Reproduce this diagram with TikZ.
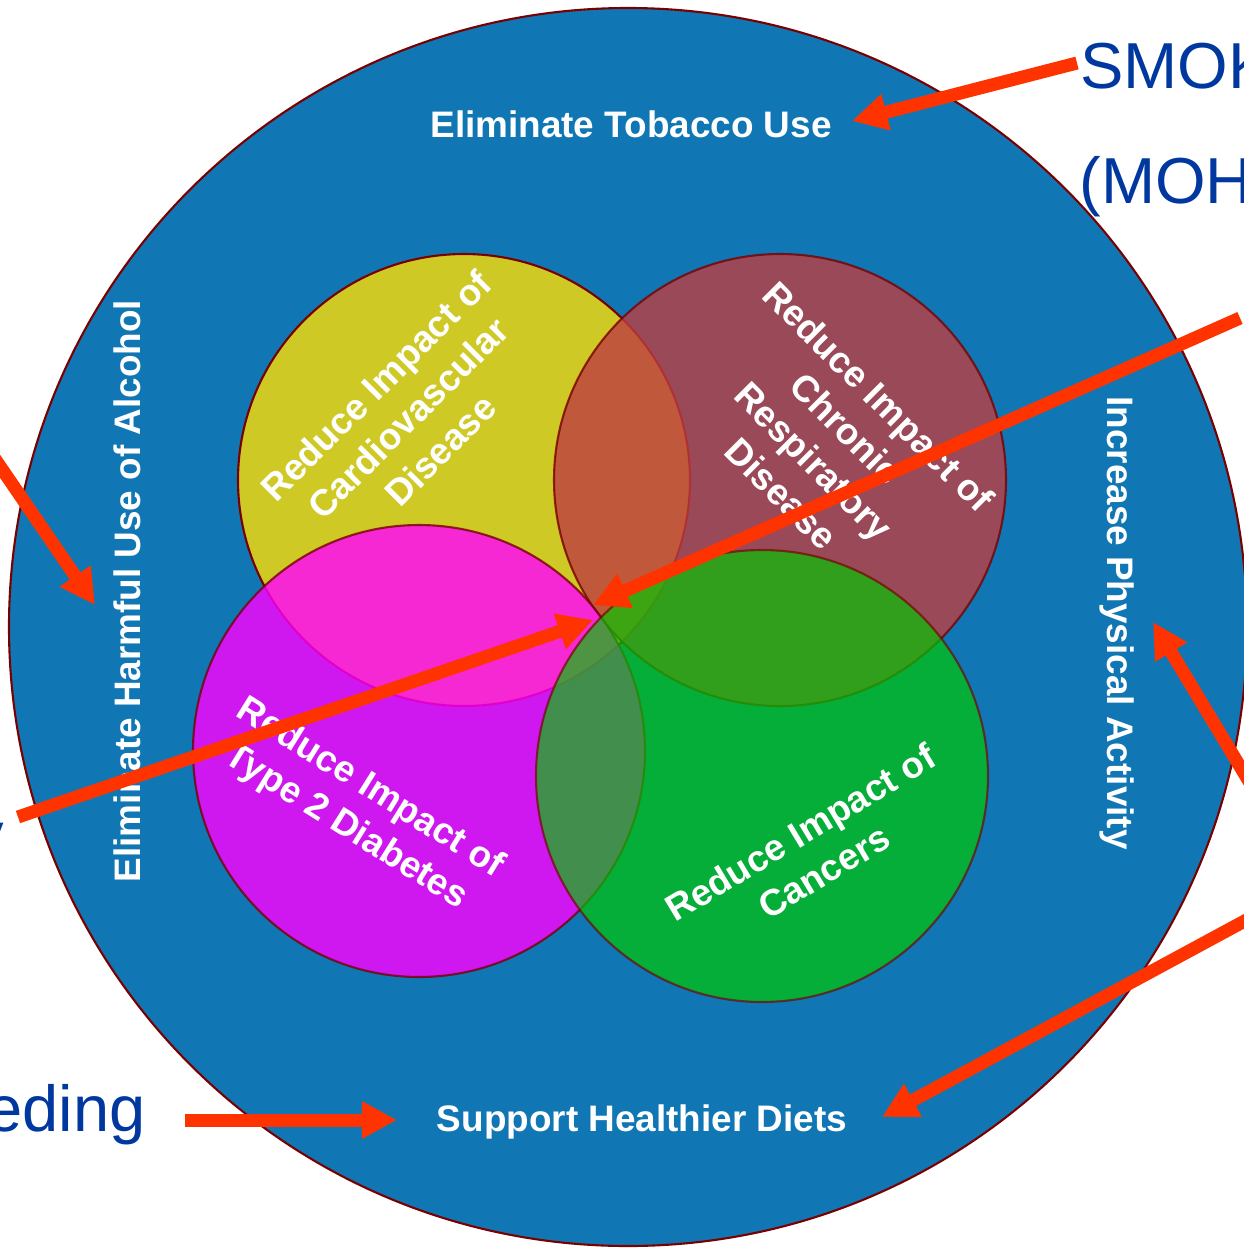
\documentclass[tikz,border=0pt]{standalone}
\usepackage{fontspec}
\setmainfont{Liberation Sans}
\usepackage{xcolor}
\usetikzlibrary{arrows.meta}
\definecolor{ringblue}{RGB}{16,119,180}
\definecolor{rimred}{RGB}{120,0,0}
\definecolor{cvdyellow}{RGB}{207,201,38}
\definecolor{crdred}{RGB}{189,62,65}
\definecolor{dmpink}{RGB}{255,0,255}
\definecolor{cagreen}{RGB}{0,200,0}
\definecolor{riskblue}{RGB}{0,56,160}
\definecolor{pointerred}{RGB}{255,51,0}
\newcommand{\drawDisk}[4]{% center: x,y; colour; opacity
  \draw[rimred,line width=1.2pt,fill=#3,opacity=#4] (#1,#2) circle (226);
}
\tikzset{
  outlabel/.style={text=white,font=\bfseries\fontsize{21}{26}\selectfont,inner sep=0pt},
  disklabel/.style={outlabel,align=center},
  risklabel/.style={text=riskblue,font=\fontsize{37}{44}\selectfont,inner sep=0pt},
  pointer/.style={pointerred,line width=7.4pt,-{Triangle[length=20pt,width=20pt]}}
}
\begin{document}
\begin{tikzpicture}[x=0.02cm,y=-0.02cm]
\useasboundingbox (0,0) rectangle (1244,1248);

% Outer ring
\draw[rimred,line width=1.2pt,fill=ringblue] (628,627) circle (619);

% Four disks
\drawDisk{464}{480}{cvdyellow}{1}
\drawDisk{780}{480}{crdred}{0.8}
\drawDisk{419}{751}{dmpink}{0.8}
\drawDisk{762}{776}{cagreen}{0.68}

% Disk labels
\node[disklabel,rotate=45] (cvd) at (408,418) {Reduce Impact of\\Cardiovascular\\Disease};
\node[disklabel,rotate=-45] (crd) at (830,445) {Reduce Impact of\\Chronic\\Respiratory\\Disease};
\node[disklabel,rotate=-32] (dm) at (358,808) {Reduce Impact of\\Type 2 Diabetes};
\node[disklabel,rotate=31] (ca) at (812,852) {Reduce Impact of\\Cancers};

% Ring labels
\node[outlabel,anchor=base] (tobacco) at (631,137) {Eliminate Tobacco Use};
\node[outlabel,anchor=base] (diets) at (642,1131) {Support Healthier Diets};
\node[outlabel,anchor=base,rotate=90] (alcohol) at (140,591) {Eliminate Harmful Use of Alcohol};
\node[outlabel,anchor=base,rotate=-90] (activity) at (1107,623) {Increase Physical Activity};

% Risk factors
\node[risklabel,anchor=base west] (smoking) at (1080,88) {SMOK};
\node[risklabel,anchor=base west] (moh) at (1079,203) {(MOH};
\node[risklabel,anchor=base east] (feeding) at (146,1131) {eding};
\node[risklabel,anchor=base east] (inactivity) at (4,857) {y};

% Arrow ends
\coordinate (smokeTail) at (1077,63);
\coordinate (tobaccoTip) at (852,121);
\coordinate (alcoholTail) at (-20,437);
\coordinate (alcoholTip) at (95,605);
\coordinate (leftTail) at (18,817);
\coordinate (hubTipA) at (593,620);
\coordinate (rightTail) at (1240,318);
\coordinate (hubTipB) at (593,605);
\coordinate (activityTail) at (1265,808);
\coordinate (activityTip) at (1153,622);
\coordinate (dietTail) at (1265,910);
\coordinate (dietTip) at (882,1117);
\coordinate (feedTail) at (185,1120);
\coordinate (feedTip) at (397,1120);

% Arrows
\draw[pointer] (smokeTail) -- (tobaccoTip);
\draw[pointer] (alcoholTail) -- (alcoholTip);
\draw[pointer] (leftTail) -- (hubTipA);
\draw[pointer] (rightTail) -- (hubTipB);
\draw[pointer] (activityTail) -- (activityTip);
\draw[pointer] (dietTail) -- (dietTip);
\draw[pointer] (feedTail) -- (feedTip);
\end{tikzpicture}
\end{document}
